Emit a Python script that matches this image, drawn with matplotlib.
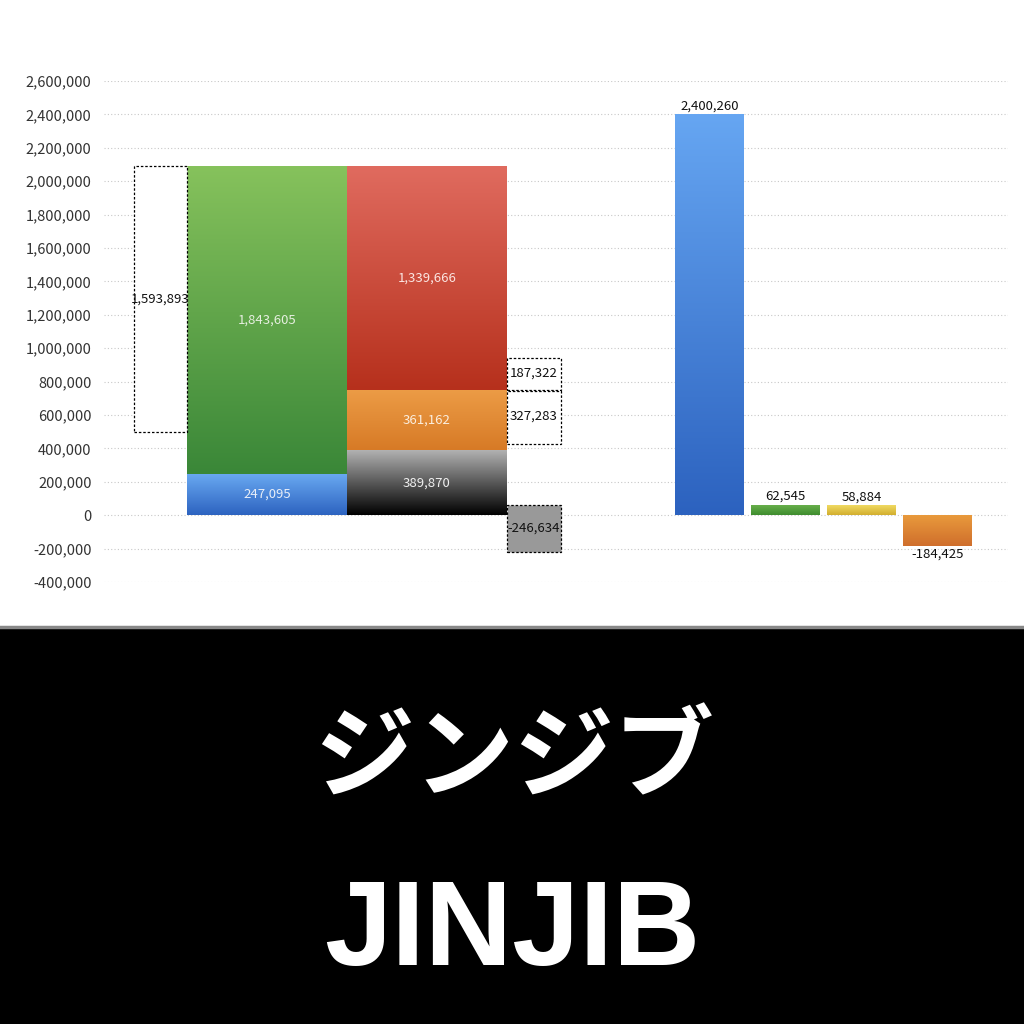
import numpy as np
import matplotlib
matplotlib.use("Agg")
import matplotlib.pyplot as plt
from matplotlib.colors import LinearSegmentedColormap
from matplotlib.ticker import FuncFormatter

# ---------------- data ----------------
# left column 1 (stacked)
col1_values = [247095, 1843605]
# left column 2 (stacked)
col2_values = [389870, 361162, 1339666]
# dashed difference boxes
diff_main = 1593893
diff_upper = 187322
diff_mid = 327283
diff_neg = -246634
diff_neg_top = 60000       # estimated top of the gray box
diff_neg_bottom = -222000  # estimated bottom of the gray box
# right-hand bars
right_values = [2400260, 62545, 58884, -184425]

title_jp = "ジンジブ"
title_en = "JINJIB"

yticks = list(range(-400000, 2600001, 200000))

# ---------------- style ----------------
plt.rcParams['font.family'] = ['Noto Sans CJK JP', 'DejaVu Sans']

fig = plt.figure(figsize=(10.24, 10.24), dpi=100)
fig.patch.set_facecolor("white")

# bottom black banner
banner = fig.add_axes([0, 0, 1, 1 - 627 / 1024])
banner.set_facecolor("black")
banner.set_xticks([]); banner.set_yticks([])
for s in banner.spines.values():
    s.set_visible(False)
fig.add_artist(plt.Line2D([0, 1], [1 - 626.5 / 1024] * 2, color="#888888", lw=2.5,
                          transform=fig.transFigure))
fig.text(0.502, 1 - 760 / 1024, title_jp, color="white", fontsize=72, fontweight="bold",
         ha="center", va="center", family=['Noto Sans CJK JP', 'DejaVu Sans'])
fig.text(0.5, 1 - 933 / 1024, title_en, color="white", fontsize=87, fontweight="bold",
         ha="center", va="center", family=['Liberation Sans', 'DejaVu Sans'])

ax = fig.add_axes([104 / 1024, 1 - 582 / 1024, (1008 - 104) / 1024, (582 - 81) / 1024])
ax.set_xlim(104, 1008)
ax.set_ylim(-400000, 2600000)
for s in ax.spines.values():
    s.set_visible(False)
ax.set_yticks(yticks)
ax.yaxis.set_major_formatter(FuncFormatter(lambda v, p: f"{int(v):,}"))
ax.tick_params(axis="y", length=0, labelsize=10.5, labelcolor="#333333", pad=9)
ax.set_xticks([])
ax.grid(axis="y", linestyle=(0, (1, 2)), color="#c8c8c8", lw=0.8)
ax.set_axisbelow(True)


def grad_bar(x0, w, bottom, height, top_color, bottom_color, z=2):
    rect = ax.bar(x0, height, width=w, bottom=bottom, align="edge",
                  color="none", edgecolor="none", zorder=z)[0]
    cmap = LinearSegmentedColormap.from_list("g", [bottom_color, top_color])
    y0, y1 = bottom, bottom + height
    grad = np.linspace(0, 1, 256).reshape(-1, 1)
    if y1 < y0:
        y0, y1 = y1, y0
    im = ax.imshow(grad, cmap=cmap, aspect="auto", origin="lower",
                   extent=[x0, x0 + w, y0, y1], zorder=z)
    im.set_clip_path(rect)
    return rect


def dashed_box(x0, w, bottom, height, face="white"):
    ax.bar(x0, height, width=w, bottom=bottom, align="edge", facecolor=face,
           edgecolor="black", linestyle=(0, (2, 1.5)), linewidth=0.9, zorder=3)


lbl = dict(fontsize=9.5, ha="center", va="center", zorder=5)

# column 1
c1x, cw = 187, 160
grad_bar(c1x, cw, 0, col1_values[0], "#6aaaf2", "#2d63c0")
grad_bar(c1x, cw, col1_values[0], col1_values[1], "#86c25c", "#3a8738")
ax.text(c1x + cw / 2, col1_values[0] / 2, f"{col1_values[0]:,}", color="#e8eef8", **lbl)
ax.text(c1x + cw / 2, col1_values[0] + col1_values[1] / 2, f"{col1_values[1]:,}",
        color="#e6efe0", **lbl)
top1 = col1_values[0] + col1_values[1]

# dashed box left
dashed_box(134, 53, top1 - diff_main, diff_main)
ax.text(160.5, top1 - diff_main / 2, f"{diff_main:,}", color="#111111", **lbl)

# column 2
c2x = 347
grad_bar(c2x, cw, 0, col2_values[0], "#b4b4b4", "#000000")
grad_bar(c2x, cw, col2_values[0], col2_values[1], "#ec9c46", "#d77a26")
grad_bar(c2x, cw, col2_values[0] + col2_values[1], col2_values[2], "#e06b5f", "#b6301c")
ax.text(c2x + cw / 2, col2_values[0] / 2, f"{col2_values[0]:,}", color="#f0f0f0", **lbl)
ax.text(c2x + cw / 2, col2_values[0] + col2_values[1] / 2, f"{col2_values[1]:,}",
        color="#fbeede", **lbl)
c2_mid = col2_values[0] + col2_values[1]
ax.text(c2x + cw / 2, c2_mid + col2_values[2] / 2, f"{col2_values[2]:,}",
        color="#fbe6e2", **lbl)

# dashed boxes right of column 2
dashed_box(507, 54, c2_mid, diff_upper)
ax.text(534, c2_mid + diff_upper / 2 + 5000, f"{diff_upper:,}", color="#111111", **lbl)
dashed_box(507, 54, c2_mid - diff_mid, diff_mid - 8000)
ax.text(534, c2_mid - diff_mid / 2 + 5000, f"{diff_mid:,}", color="#111111", **lbl)
dashed_box(507, 54, diff_neg_bottom, diff_neg_top - diff_neg_bottom, face="#999999")
ax.text(534, (diff_neg_top + diff_neg_bottom) / 2 + 5000, f"{diff_neg:,}", color="#111111", **lbl)

# right bars
rx = [675, 751, 827, 903]
rw = 69
rcols = [("#66a6f2", "#2c62bf"), ("#6cb24e", "#3e8d2e"),
         ("#f0da62", "#d2ae2e"), ("#e99a3c", "#cf6e2c")]
for x0, v, (tc, bc) in zip(rx, right_values, rcols):
    if v >= 0:
        grad_bar(x0, rw, 0, v, tc, bc)
        ax.text(x0 + rw / 2, v + 12000, f"{v:,}", fontsize=9.5, ha="center", va="bottom",
                color="#111111", zorder=5)
    else:
        grad_bar(x0, rw, v, -v, tc, bc)
        ax.text(x0 + rw / 2, v - 12000, f"{v:,}", fontsize=9.5, ha="center", va="top",
                color="#111111", zorder=5)

fig.savefig("out.png", dpi=100, facecolor="white")
